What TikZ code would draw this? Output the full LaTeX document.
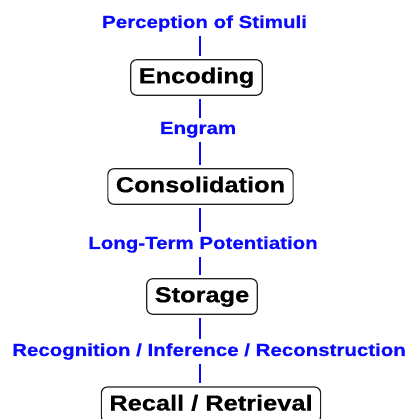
\documentclass[tikz,border=0pt]{standalone}
\usepackage{fontspec}
\newfontfamily\diagfont{Liberation Sans}[FakeStretch=1.17,FakeBold=0.6]
\usetikzlibrary{positioning}

\definecolor{linkblue}{RGB}{10,10,255}
\definecolor{boxgray}{RGB}{30,30,30}

\begin{document}
\begin{tikzpicture}[
    x = 1pt,
    y = 1pt,
    stagebox/.style={
        draw = boxgray,
        line width = 1.2pt,
        rounded corners = 6pt,
        font = \diagfont\bfseries\fontsize{21.7}{24}\selectfont,
        text height = 16pt,
        text depth = 4.5pt,
        inner xsep = 8pt,
        inner ysep = 7.5pt,
        outer sep = 4pt,
        anchor = center,
        },
    linklabel/.style={
        text = linkblue,
        font = \diagfont\bfseries\fontsize{17.5}{20}\selectfont,
        inner sep = 0pt,
        outer sep = 4pt,
        anchor = base,
        },
    link/.style={
        draw = linkblue,
        line width = 1.3pt,
        },
]

\useasboundingbox (0,0) rectangle (408,419);

\coordinate (axis) at (200,0);

\node[linklabel] (stimuli) at (204.5,391) {Perception of Stimuli};
\node[stagebox] (encoding) at (196.5,341.5) {Encoding};
\node[linklabel] (engram) at (198,285) {Engram};
\node[stagebox] (consolidation) at (200.5,232.5) {Consolidation};
\node[linklabel] (ltp) at (203,170) {Long-Term Potentiation};
\node[stagebox] (storage) at (202,122.5) {Storage};
\node[linklabel] (recognition) at (209,63) {Recognition / Inference / Reconstruction};
\node[stagebox] (recall) at (211,14.25) {Recall / Retrieval};

\foreach \from/\to in {stimuli/encoding, encoding/engram, engram/consolidation,
    consolidation/ltp, ltp/storage, storage/recognition, recognition/recall}
    \draw[link] (\from.south -| axis) -- (\to.north -| axis);

\end{tikzpicture}
\end{document}
